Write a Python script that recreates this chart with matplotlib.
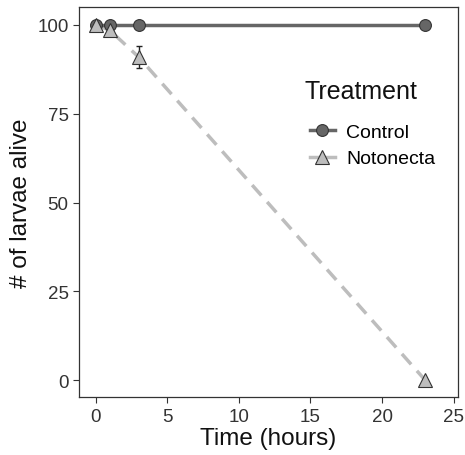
import matplotlib.pyplot as plt
from matplotlib.lines import Line2D

plt.rcParams['font.family'] = ['Liberation Sans', 'DejaVu Sans']

# dados
tempo = [0, 1, 3, 23]
controle = [100, 100, 100, 100]
notonecta = [100, 98.5, 91, 0]
notonecta_err = [0.5, 1, 3, 0]

fig = plt.figure(figsize=(4.65, 4.56), dpi=100)
ax = fig.add_axes([0.17, 0.127, 0.815, 0.855])

ax.errorbar(tempo, notonecta, yerr=notonecta_err, fmt='none', ecolor='#222222',
            elinewidth=1, capsize=2.5, zorder=2)
ax.plot(tempo, notonecta, color='#bdbdbd', lw=2.5, ls=(0, (4, 2.5)), zorder=1)
ax.plot(tempo, controle, color='#666666', lw=2.5, zorder=3)
ax.plot(tempo, controle, ls='none', marker='o', ms=8.5, mfc='#666666',
        mec='#333333', mew=0.8, zorder=4)
ax.plot(tempo, notonecta, ls='none', marker='^', ms=10, mfc='#bdbdbd',
        mec='#333333', mew=0.8, zorder=5)

ax.set_xlim(-1.15, 25.3)
ax.set_ylim(-4.8, 105)
ax.set_xticks([0, 5, 10, 15, 20, 25])
ax.set_yticks([0, 25, 50, 75, 100])
ax.set_xlabel('Time (hours)', fontsize=17.5, color='#111111', labelpad=2)
ax.set_ylabel('# of larvae alive', fontsize=17.5, color='#111111', labelpad=4)
ax.tick_params(labelsize=13.5, colors='#333333', length=4, width=0.8)
for s in ax.spines.values():
    s.set_color('#333333')
    s.set_linewidth(0.9)

# legenda (titulo separado)
fig.text(304 / 465, 1 - 92 / 456, 'Treatment', fontsize=18, color='#111111',
         ha='left', va='center')
h1 = Line2D([], [], color='#666666', lw=2.5, marker='o', ms=8.5, mfc='#666666',
            mec='#333333', mew=0.8)
h2 = Line2D([], [], color='#bdbdbd', lw=2.5, marker='^', ms=10, mfc='#bdbdbd',
            mec='#333333', mew=0.8)
leg = ax.legend([h1, h2], ['Control', 'Notonecta'],
                loc='upper left', bbox_transform=fig.transFigure,
                bbox_to_anchor=(292 / 465, 1 - 107 / 456), frameon=False,
                fontsize=14, handlelength=1.3,
                labelspacing=0.45, handletextpad=0.6)

fig.savefig('out.png', dpi=100)
